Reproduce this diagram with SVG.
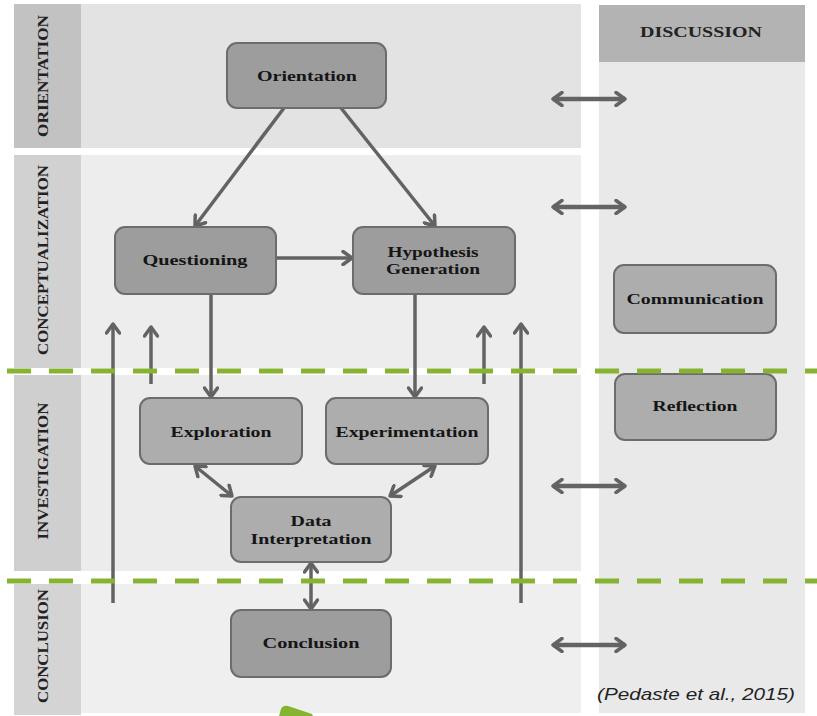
<svg xmlns="http://www.w3.org/2000/svg" width="817" height="716" viewBox="0 0 817 716">
<style>
.node rect{stroke:#6c6c6c;stroke-width:2}
.dark rect{fill:#9d9d9d}
.light rect{fill:#adadad}
.nt{font-family:"Liberation Serif",serif;font-weight:bold;font-size:15px;fill:#151515;text-anchor:middle}
.lab{font-family:"Liberation Serif",serif;font-weight:bold;font-size:15px;fill:#222;text-anchor:middle}
.con line{stroke:#636363;stroke-width:3.5;fill:none}
.con line.dbl{stroke-width:4.5}
.green{stroke:#86b431;stroke-width:5;stroke-dasharray:24 18}
</style>
<defs>
<marker id="ah" viewBox="0 0 16 16" markerWidth="16" markerHeight="16" markerUnits="userSpaceOnUse" refX="13" refY="8" orient="auto-start-reverse">
<path d="M4,1.5 L13,8 L4,14.5" fill="none" stroke="#636363" stroke-width="3.5" stroke-linecap="round" stroke-linejoin="round"/>
</marker>
</defs>
<rect width="817" height="716" fill="#ffffff"/>
<g id="lanes">
<rect x="14" y="4" width="67" height="144" fill="#c2c2c2"/>
<rect x="81" y="4" width="500" height="144" fill="#e3e3e3"/>
<rect x="14" y="155" width="67" height="213" fill="#d1d1d1"/>
<rect x="81" y="155" width="500" height="213" fill="#ededed"/>
<rect x="14" y="375" width="67" height="196" fill="#cfcfcf"/>
<rect x="81" y="375" width="500" height="196" fill="#ececec"/>
<rect x="14" y="584" width="67" height="131" fill="#d4d4d4"/>
<rect x="81" y="584" width="500" height="129" fill="#efefef"/>
<rect x="599" y="5" width="206" height="708" fill="#e9e9e9"/>
<rect x="599" y="5" width="206" height="57" fill="#b3b3b3"/>
<text class="lab" x="701" y="37" textLength="122" lengthAdjust="spacingAndGlyphs">DISCUSSION</text>
<text class="lab" transform="translate(48,76) rotate(-90)" textLength="122" lengthAdjust="spacingAndGlyphs">ORIENTATION</text>
<text class="lab" transform="translate(48,260) rotate(-90)" textLength="190" lengthAdjust="spacingAndGlyphs">CONCEPTUALIZATION</text>
<text class="lab" transform="translate(48,471) rotate(-90)" textLength="137" lengthAdjust="spacingAndGlyphs">INVESTIGATION</text>
<text class="lab" transform="translate(48,646) rotate(-90)" textLength="114" lengthAdjust="spacingAndGlyphs">CONCLUSION</text>
</g>
<g id="connectors" class="con">
<line x1="284" y1="108" x2="195" y2="226" marker-end="url(#ah)"/>
<line x1="341" y1="108" x2="435" y2="226" marker-end="url(#ah)"/>
<line x1="276" y1="258" x2="352" y2="258" marker-end="url(#ah)"/>
<line x1="211" y1="294" x2="211" y2="397" marker-end="url(#ah)"/>
<line x1="415" y1="294" x2="415" y2="397" marker-end="url(#ah)"/>
<line x1="195" y1="466" x2="232" y2="496" marker-start="url(#ah)" marker-end="url(#ah)"/>
<line x1="435" y1="466" x2="390" y2="496" marker-start="url(#ah)" marker-end="url(#ah)"/>
<line x1="311" y1="563" x2="311" y2="609" marker-start="url(#ah)" marker-end="url(#ah)"/>
<line x1="113" y1="603" x2="113" y2="324" marker-end="url(#ah)"/>
<line x1="151" y1="384" x2="151" y2="327" marker-end="url(#ah)"/>
<line x1="484" y1="384" x2="484" y2="327" marker-end="url(#ah)"/>
<line x1="521" y1="603" x2="521" y2="324" marker-end="url(#ah)"/>
<line class="dbl" x1="553" y1="99" x2="625" y2="99" marker-start="url(#ah)" marker-end="url(#ah)"/>
<line class="dbl" x1="553" y1="207" x2="625" y2="207" marker-start="url(#ah)" marker-end="url(#ah)"/>
<line class="dbl" x1="553" y1="486" x2="625" y2="486" marker-start="url(#ah)" marker-end="url(#ah)"/>
<line class="dbl" x1="553" y1="645" x2="625" y2="645" marker-start="url(#ah)" marker-end="url(#ah)"/>
</g>
<g id="n-orientation" class="node dark"><rect x="227" y="43" width="159" height="65" rx="10"/><text class="nt" x="307" y="81" textLength="100" lengthAdjust="spacingAndGlyphs">Orientation</text></g>
<g id="n-questioning" class="node dark"><rect x="115" y="227" width="161" height="67" rx="10"/><text class="nt" x="195" y="265" textLength="105" lengthAdjust="spacingAndGlyphs">Questioning</text></g>
<g id="n-hypothesis" class="node dark"><rect x="353" y="227" width="162" height="67" rx="10"/><text class="nt" x="433" y="257" textLength="91" lengthAdjust="spacingAndGlyphs">Hypothesis</text><text class="nt" x="433" y="274" textLength="94" lengthAdjust="spacingAndGlyphs">Generation</text></g>
<g id="n-exploration" class="node light"><rect x="140" y="398" width="162" height="66" rx="10"/><text class="nt" x="221" y="437" textLength="101" lengthAdjust="spacingAndGlyphs">Exploration</text></g>
<g id="n-experimentation" class="node light"><rect x="326" y="398" width="162" height="66" rx="10"/><text class="nt" x="407" y="437" textLength="143" lengthAdjust="spacingAndGlyphs">Experimentation</text></g>
<g id="n-data" class="node light"><rect x="231" y="497" width="160" height="65" rx="10"/><text class="nt" x="311" y="526" textLength="41" lengthAdjust="spacingAndGlyphs">Data</text><text class="nt" x="311" y="544" textLength="121" lengthAdjust="spacingAndGlyphs">Interpretation</text></g>
<g id="n-conclusion" class="node dark"><rect x="231" y="610" width="160" height="67" rx="10"/><text class="nt" x="311" y="648" textLength="97" lengthAdjust="spacingAndGlyphs">Conclusion</text></g>
<g id="n-communication" class="node light"><rect x="614" y="265" width="162" height="68" rx="10"/><text class="nt" x="695" y="304" textLength="137" lengthAdjust="spacingAndGlyphs">Communication</text></g>
<g id="n-reflection" class="node light"><rect x="615" y="374" width="161" height="66" rx="10"/><text class="nt" x="695" y="411" textLength="85" lengthAdjust="spacingAndGlyphs">Reflection</text></g>
<g id="dividers">
<line class="green" x1="7" y1="371" x2="817" y2="371"/>
<line class="green" x1="7" y1="581" x2="817" y2="581"/>
</g>
<path d="M279,716 L281,709 Q283,705 288,706 L312,714 L313,716 Z" fill="#86b431"/>
<text x="597" y="700" font-family="Liberation Sans, sans-serif" font-style="italic" font-size="17" fill="#222" textLength="198" lengthAdjust="spacingAndGlyphs">(Pedaste et al., 2015)</text>
</svg>
